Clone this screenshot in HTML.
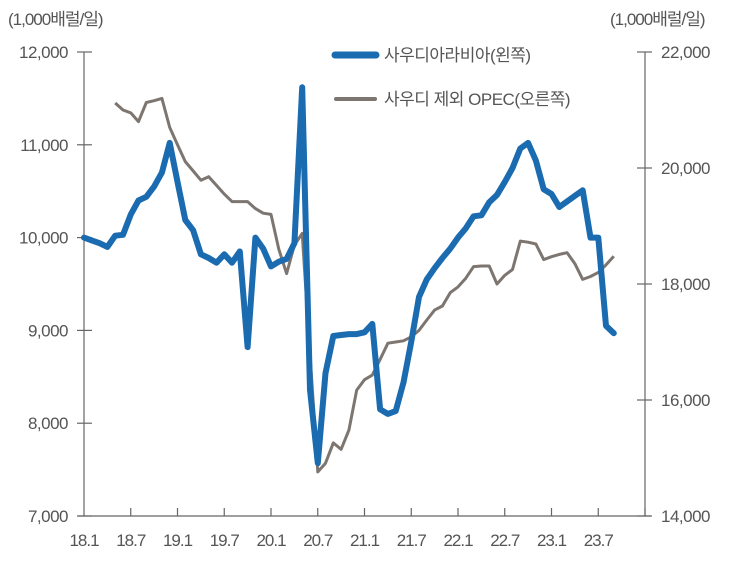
<!DOCTYPE html>
<html><head><meta charset="utf-8"><style>
html,body{margin:0;padding:0;background:#fff}
svg text{font-family:"Liberation Sans","Noto Sans CJK KR",sans-serif;fill:#555}
</style></head><body>
<svg id="chart" width="735" height="561" viewBox="0 0 735 561" xmlns="http://www.w3.org/2000/svg">
<text x="8" y="25" font-size="17" letter-spacing="-1">(1,000배럴/일)</text>
<text x="610" y="25" font-size="17" letter-spacing="-1">(1,000배럴/일)</text>
<g id="axes"></g>
<g id="series"></g>
<g>
<line x1="335" y1="55" x2="376" y2="55" stroke="#1a6bb0" stroke-width="7" stroke-linecap="round"/>
<text x="384" y="61" font-size="17" letter-spacing="-0.5">사우디아라비아(왼쪽)</text>
<line x1="336" y1="99" x2="375" y2="99" stroke="#7d7570" stroke-width="4" stroke-linecap="round"/>
<text x="384" y="105" font-size="17" letter-spacing="-0.5">사우디 제외 OPEC(오른쪽)</text>
</g>
</svg>
<script>
const xTickLabels = ["18.1","18.7","19.1","19.7","20.1","20.7","21.1","21.7","22.1","22.7","23.1","23.7"];
const leftTicks = [7000,8000,9000,10000,11000,12000];
const rightTicks = [14000,16000,18000,20000,22000];
const saudi = [10000,9970,9940,9900,10020,10030,10250,10400,10440,10550,10700,11020,10600,10190,10080,9820,9780,9730,9820,9730,9850,8820,10000,9880,9690,9740,9770,9940,11620,8360,7570,8540,8940,8950,8960,8960,8980,9070,8150,8100,8130,8440,8880,9360,9550,9670,9780,9880,10000,10100,10230,10240,10380,10460,10600,10750,10960,11020,10830,10520,10470,10330,10390,10450,10510,10000,10000,9050,8970];
const opec = [null,null,null,null,21120,21000,20950,20800,21130,21160,21200,20700,20400,20110,19950,19790,19850,19700,19550,19420,19420,19420,19300,19220,19200,18600,18180,18670,18870,16800,14760,14910,15260,15150,15480,16170,16350,16430,16700,16980,17000,17020,17090,17200,17380,17550,17620,17850,17950,18100,18300,18310,18310,18000,18150,18250,18740,18720,18690,18420,18470,18510,18540,18350,18080,18130,18200,18330,18480];

const X0=84, X1=645, Y0=516, Y1=52;
const xPos = m => X0 + m*(X1-X0)/72;
const yL = v => Y0 - (v-7000)/5000*(Y0-Y1);
const yR = v => Y0 - (v-14000)/8000*(Y0-Y1);
const NS="http://www.w3.org/2000/svg";
const axes=document.getElementById('axes'), series=document.getElementById('series');
function mk(tag,attrs,parent){const e=document.createElementNS(NS,tag);for(const k in attrs)e.setAttribute(k,attrs[k]);parent.appendChild(e);return e;}
const fmt=v=>v.toLocaleString('en-US');

let e=mk('line',{x1:X0,y1:Y1,x2:X0,y2:Y0,stroke:'#666','stroke-width':1.2},axes);


e=mk('line',{x1:X1,y1:Y1,x2:X1,y2:Y0,stroke:'#666','stroke-width':1.2},axes);


e=mk('line',{x1:X0-6,y1:Y0,x2:X1+6,y2:Y0,stroke:'#666','stroke-width':1.2},axes);



leftTicks.forEach(v=>{const y=yL(v);
 let t=mk('line',{x1:X0-7,y1:y,x2:X0+8,y2:y,stroke:'#666','stroke-width':1.2},axes);
 
 
 let l=mk('text',{x:X0-16,y:y+6,'font-size':17,'text-anchor':'end','letter-spacing':-0.5},axes);l.textContent=fmt(v);
 
 
});
rightTicks.forEach(v=>{const y=yR(v);
 let t=mk('line',{x1:X1-8,y1:y,x2:X1+7,y2:y,stroke:'#666','stroke-width':1.2},axes);
 
 
 let l=mk('text',{x:X1+16,y:y+6,'font-size':17,'letter-spacing':-0.5},axes);l.textContent=fmt(v);
 
 
});
xTickLabels.forEach((s,i)=>{const x=xPos(i*6);
 if(i>0){let t=mk('line',{x1:x,y1:Y0-8,x2:x,y2:Y0,stroke:'#666','stroke-width':1.2},axes);
 
 }
 let l=mk('text',{x:x,y:Y0+30,'font-size':17,'text-anchor':'middle','letter-spacing':-1},axes);l.textContent=s;
 
 
});
if(true){let t=mk('line',{x1:xPos(72),y1:Y0-8,x2:xPos(72),y2:Y0,stroke:'#666','stroke-width':1.2},axes);
 
 }

function path(arr,yf){let d='',started=false;arr.forEach((v,i)=>{if(v==null)return;d+=(started?'L':'M')+xPos(i).toFixed(1)+','+yf(v).toFixed(1);started=true;});return d;}
let p=mk('path',{d:path(opec,yR),fill:'none',stroke:'#7d7570','stroke-width':3,'stroke-linejoin':'round'},series);


p=mk('path',{d:path(saudi,yL),fill:'none',stroke:'#1a6bb0','stroke-width':6,'stroke-linejoin':'round','stroke-linecap':'round'},series);


</script>
</body></html>
